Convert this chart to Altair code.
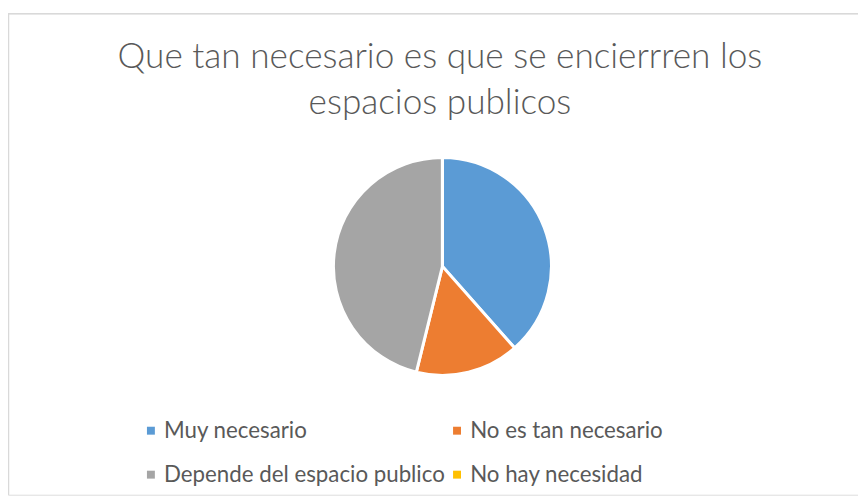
import altair as alt
import pandas as pd

categories = ["Muy necesario", "No es tan necesario", "Depende del espacio publico", "No hay necesidad"]
values = [5, 2, 6, 0]
colors = ["#5B9BD5", "#ED7D31", "#A5A5A5", "#FFC000"]
title_lines = ["Que tan necesario es que se encierrren los", "espacios publicos"]

# legend fills column by column: order entries so rows read as in the original
legend_order = [categories[0], categories[2], categories[1], categories[3]]
legend_colors = [colors[0], colors[2], colors[1], colors[3]]

df = pd.DataFrame({"categoria": categories, "valor": values, "orden": list(range(len(categories)))})

W, H = 858, 486
FONT = "Lato"

pie = alt.Chart(df).mark_arc(outerRadius=110, stroke="white", strokeWidth=3).encode(
    theta=alt.Theta("valor:Q", stack=True),
    order=alt.Order("orden:Q"),
    color=alt.Color(
        "categoria:N",
        scale=alt.Scale(domain=legend_order, range=legend_colors),
        legend=alt.Legend(
            title=None, orient="none", legendX=133, legendY=410, columns=2,
            symbolType="square", symbolSize=64, symbolStrokeWidth=0,
            labelFontSize=22.5, labelFont=FONT, labelColor="#595959", labelOffset=2,
            rowPadding=21.5, columnPadding=-2, padding=0, labelLimit=400,
        ),
    ),
    x=alt.value(438.5),
    y=alt.value(255.5),
)

border_df = pd.DataFrame({"b": [0]})
top_border = alt.Chart(border_df).mark_rule(color="#d9d9d9", strokeWidth=1.5).encode(
    x=alt.value(0), x2=alt.value(W), y=alt.value(0.5)
)
left_border = alt.Chart(border_df).mark_rule(color="#d9d9d9", strokeWidth=1.5).encode(
    x=alt.value(0.5), y=alt.value(0), y2=alt.value(H)
)

chart = alt.layer(top_border, left_border, pie).properties(
    width=W, height=H,
    autosize=alt.AutoSizeParams(type="none"),
    padding={"left": 0, "top": 3, "right": 0, "bottom": 0},
    title=alt.TitleParams(
        text=title_lines, font=FONT, fontSize=35.5, fontWeight=300, color="#595959",
        anchor="middle", offset=0, baseline="top", dy=110, dx=7, lineHeight=46,
    ),
).configure_view(stroke=None).configure(background="white")

chart.save("out.html", embed_options={"renderer": "svg", "actions": False})
